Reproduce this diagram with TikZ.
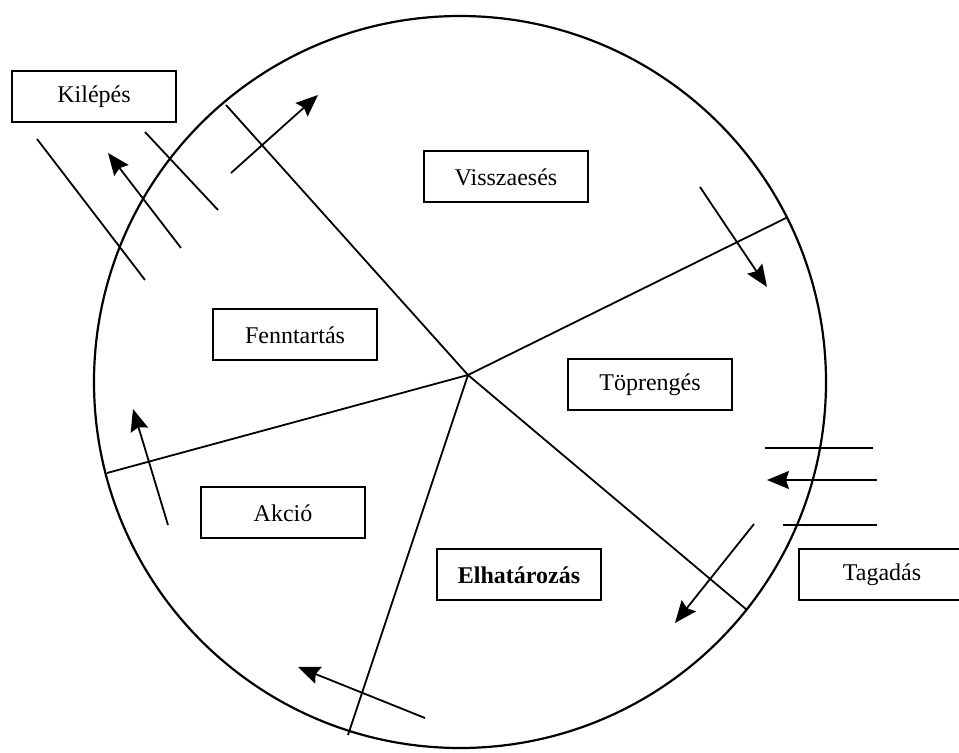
\documentclass[tikz,border=0pt]{standalone}
\usepackage{fontspec}
\setmainfont{Liberation Serif}
\usetikzlibrary{arrows.meta,positioning}

\begin{document}
\begin{tikzpicture}[
    x=0.5pt, y=-0.5pt,
    stage/.style={draw, rectangle, minimum width=82pt, minimum height=25.5pt, text centered, inner sep=2pt, font=\fontsize{12}{14}\selectfont, line width=1pt},
    flow/.style={-{Stealth[length=11pt,width=9pt,inset=1.5pt]}, line width=0.9pt},
    spoke/.style={line width=0.9pt}
]
\useasboundingbox (0,0) rectangle (959,753);

% wheel
\coordinate (O) at (460,382);
\coordinate (H) at (468,375);
\draw[line width=1.1pt] (O) circle (183pt);

\coordinate (s1) at (226,105);
\coordinate (s2) at (786,218);
\coordinate (s3) at (747,610);
\coordinate (s4) at (348,735);
\coordinate (s5) at (107,473);
\foreach \s in {s1,s2,s3,s4,s5}
    \draw[spoke] (H) -- (\s);

% stages
\node[stage] (kilepes) at (94,97) {Kilépés};
\node[stage] (visszaeses) at (506,177) {Visszaesés};
\node[stage] (fenntartas) at (295,335) {Fenntartás};
\node[stage] (toprenges) at (650,385) {Töprengés};
\node[stage] (akcio) at (283,513) {Akció};
\node[stage, font=\fontsize{12}{14}\selectfont\bfseries] (elhatarozas) at (519,575) {Elhatározás};
\node[stage, minimum width=100pt] (tagadas) at (899,575) {\hspace*{-17pt}Tagadás};

% exit lines
\coordinate (k1a) at (37,139);  \coordinate (k1b) at (145,280);
\coordinate (k2a) at (145,132); \coordinate (k2b) at (218,210);
\draw[spoke] (k1a) -- (k1b);
\draw[spoke] (k2a) -- (k2b);

% denial lines
\coordinate (t1a) at (765,448); \coordinate (t1b) at (873,448);
\coordinate (t3a) at (783,525); \coordinate (t3b) at (877,525);
\draw[spoke] (t1a) -- (t1b);
\draw[spoke] (t3a) -- (t3b);

% arrows
\coordinate (a1) at (231,173); \coordinate (a1t) at (318,95);
\coordinate (a2) at (181,248); \coordinate (a2t) at (108,153);
\coordinate (a3) at (700,187); \coordinate (a3t) at (767,287);
\coordinate (a4) at (877,480); \coordinate (a4t) at (767,480);
\coordinate (a5) at (754,524); \coordinate (a5t) at (675,623);
\coordinate (a6) at (425,718); \coordinate (a6t) at (298,667);
\coordinate (a7) at (168,525); \coordinate (a7t) at (133,409);
\foreach \a in {a1,a2,a3,a4,a5,a6,a7}
    \draw[flow] (\a) -- (\a t);
\end{tikzpicture}
\end{document}
